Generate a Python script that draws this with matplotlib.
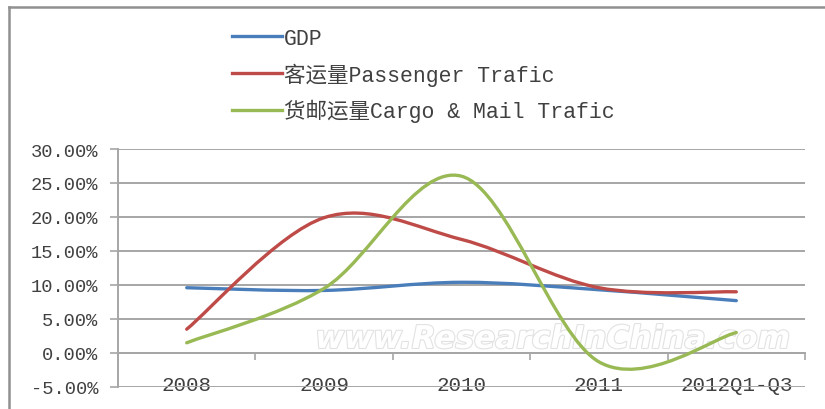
import matplotlib
matplotlib.use('Agg')
import numpy as np
import matplotlib.pyplot as plt
import matplotlib.patheffects as pe
from matplotlib.path import Path
from matplotlib.patches import PathPatch
from matplotlib.lines import Line2D
from matplotlib.font_manager import FontProperties

# Data (growth rates, %)
categories = ['2008', '2009', '2010', '2011', '2012Q1-Q3']
gdp = [9.6, 9.2, 10.4, 9.3, 7.7]
passenger = [3.5, 19.9, 16.7, 9.6, 9.0]
cargo = [1.5, 9.5, 26.0, -1.3, 3.0]

series_names = ['GDP', '客运量Passenger Trafic', '货邮运量Cargo & Mail Trafic']
series_colors = ['#4A7EBB', '#BE4B48', '#98B954']
yticks = [-5, 0, 5, 10, 15, 20, 25, 30]


def smooth_path(xs, ys):
    # Excel-style smoothed line: cubic Bezier segments through the points
    pts = np.column_stack([xs, ys]).astype(float)
    n = len(pts)
    verts = [pts[0]]
    codes = [Path.MOVETO]
    for i in range(n - 1):
        p0 = pts[i - 1] if i > 0 else pts[i]
        p1 = pts[i]
        p2 = pts[i + 1]
        p3 = pts[i + 2] if i + 2 < n else pts[i + 1]
        c1 = p1 + (p2 - p0) / 6.0
        c2 = p2 - (p3 - p1) / 6.0
        verts += [c1, c2, p2]
        codes += [Path.CURVE4] * 3
    return Path(verts, codes)


fig = plt.figure(figsize=(8.25, 4.10), dpi=100)
ax = fig.add_axes([118 / 825, 1 - 388 / 410, (805 - 118) / 825, (388 - 150) / 410])

x = np.arange(len(categories))
for vals, col in zip([gdp, passenger, cargo], series_colors):
    ax.add_patch(PathPatch(smooth_path(x, vals), facecolor='none', edgecolor=col,
                           lw=2.4, capstyle='round', zorder=4))

ax.set_xlim(-0.5, len(categories) - 0.5)
ax.set_ylim(-5, 30)

# horizontal gridlines
ax.set_yticks(yticks)
ax.set_yticklabels([f'{v:.2f}%' for v in yticks])
ax.yaxis.grid(True, color='#a6a6a6', lw=1.4)
ax.set_axisbelow(True)

for s in ['top', 'right']:
    ax.spines[s].set_visible(False)
ax.spines['left'].set_color('#a6a6a6')
ax.spines['left'].set_linewidth(1.4)
ax.spines['bottom'].set_position(('data', 0))
ax.spines['bottom'].set_color('#a6a6a6')
ax.spines['bottom'].set_linewidth(1.4)

# category axis: ticks between categories, labels at centres
ax.set_xticks(np.arange(len(categories) + 1) - 0.5)
ax.set_xticklabels([])
ax.set_xticks(x, minor=True)
ax.set_xticklabels(categories, minor=True)
ax.tick_params(axis='x', which='major', direction='out', length=5, color='#a6a6a6', width=1.2)
ax.tick_params(axis='x', which='minor', length=0, pad=16, labelsize=15, labelcolor='#404040')
ax.tick_params(axis='y', direction='out', length=6, color='#a6a6a6', width=1.2,
               labelsize=13.5, labelcolor='#404040', pad=8)
for lab in ax.get_xticklabels(minor=True) + ax.get_yticklabels():
    lab.set_family(['Liberation Mono', 'DejaVu Sans Mono'])

# watermark
ax.text(0.633, 0.2, 'www.ResearchInChina.com', transform=ax.transAxes, ha='center', va='center',
        fontsize=22.5, fontweight='bold', style='italic', color='white', zorder=3,
        path_effects=[pe.withStroke(linewidth=1.6, foreground='#e2e2e2')])

# legend
handles = [Line2D([], [], color=c, lw=2.4) for c in series_colors]
fig.legend(handles, series_names, loc='upper left', bbox_to_anchor=(232 / 825, 1 - 29 / 410),
           frameon=False, handlelength=2.3, handletextpad=0.1, labelspacing=0.62,
           borderaxespad=0, borderpad=0,
           prop=FontProperties(family=['Liberation Mono', 'Noto Sans CJK SC'], size=15.5))
for t in fig.legends[0].get_texts():
    t.set_color('#404040')

# outer chart border (left and top)
fig.add_artist(Line2D([9 / 825, 9 / 825], [0, 1 - 8 / 410], color='#909090', lw=1.8))
fig.add_artist(Line2D([9 / 825, 1], [1 - 8 / 410, 1 - 8 / 410], color='#909090', lw=1.8))

fig.savefig('out.png', dpi=100)
